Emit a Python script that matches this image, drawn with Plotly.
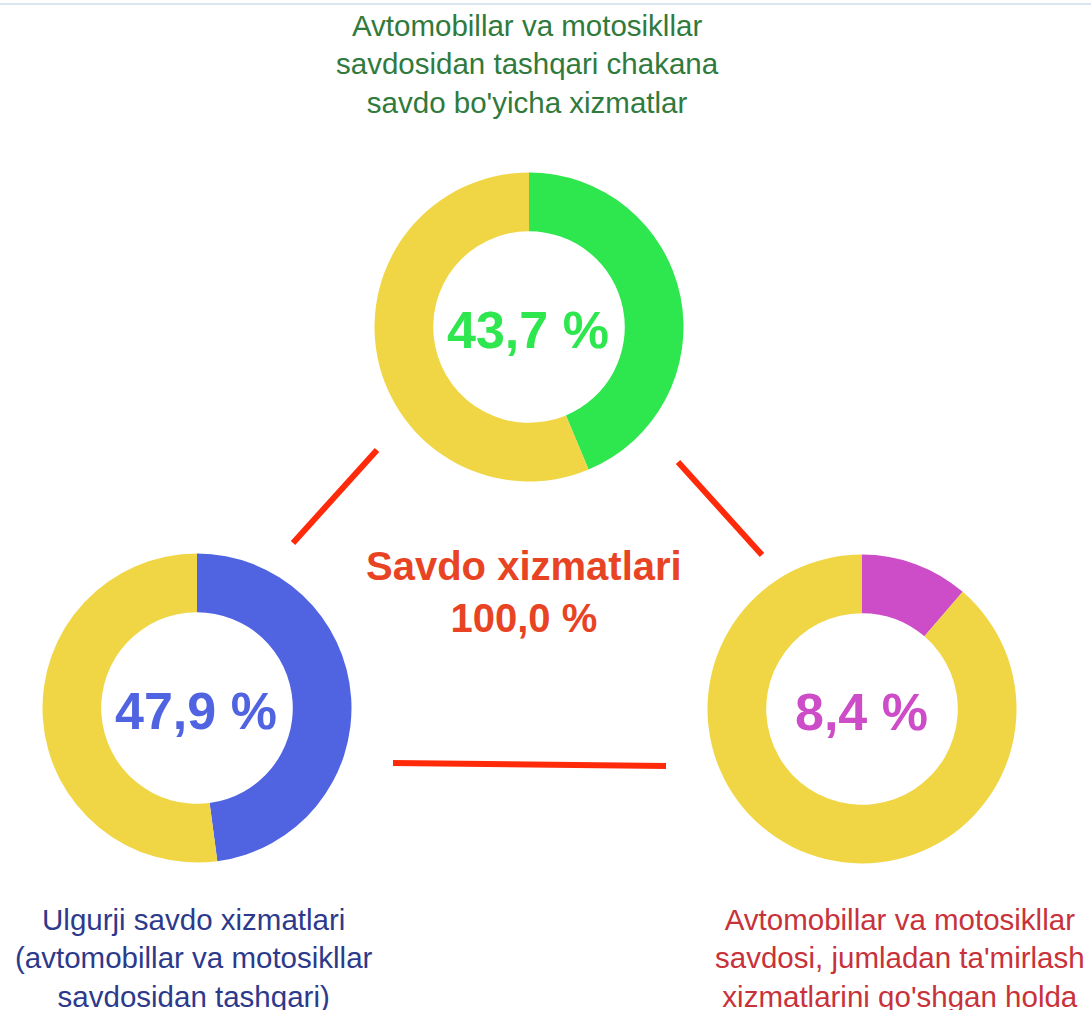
import plotly.graph_objects as go

W, H = 1091, 1010

# ---- data ----
segment_names = ["Ulush", "Qolgan"]
top_share = [43.7, 56.3]
left_share = [47.9, 52.1]
right_share = [11.3, 88.7]          # slice as drawn in the picture
pct_labels = ["43,7 %", "47,9 %", "8,4 %"]
center_title = "Savdo xizmatlari"
center_value = "100,0 %"
top_label = ["Avtomobillar va motosikllar", "savdosidan tashqari chakana", "savdo bo'yicha xizmatlar"]
left_label = ["Ulgurji savdo xizmatlari", "(avtomobillar va motosikllar", "savdosidan tashqari)"]
right_label = ["Avtomobillar va motosikllar", "savdosi, jumladan ta'mirlash", "xizmatlarini qo'shgan holda"]

# ---- layout / style ----
YELLOW = "#F0D644"
R = 154.5
donuts = [
    dict(cx=529, cy=327, vals=top_share, col="#2EE64E", txt=pct_labels[0]),
    dict(cx=197, cy=708, vals=left_share, col="#5064E2", txt=pct_labels[1]),
    dict(cx=862, cy=709, vals=right_share, col="#CD4CC8", txt=pct_labels[2]),
]
connectors = [((377, 450), (293, 543)), ((678, 462), (762, 555)), ((393, 763), (666, 766))]

fig = go.Figure()
for d in donuts:
    fig.add_trace(go.Pie(
        labels=segment_names, values=d["vals"], sort=False, direction="clockwise",
        rotation=0, hole=0.62, textinfo="none", hoverinfo="skip", showlegend=False,
        marker=dict(colors=[d["col"], YELLOW], line=dict(width=0)),
        domain=dict(x=[(d["cx"] - R) / W, (d["cx"] + R) / W],
                    y=[(H - d["cy"] - R) / H, (H - d["cy"] + R) / H]),
    ))

# invisible scatter to establish pixel axes
fig.add_trace(go.Scatter(x=[0, W], y=[0, H], mode="markers", marker=dict(opacity=0),
                         hoverinfo="skip", showlegend=False))

shapes = [dict(type="line", x0=0, x1=W, y0=4, y1=4, xref="x", yref="y",
               line=dict(color="#DCE6F3", width=2))]
for (a, b) in connectors:
    shapes.append(dict(type="line", x0=a[0], y0=a[1], x1=b[0], y1=b[1], xref="x", yref="y",
                       line=dict(color="#FF2A0A", width=6)))

FONT = "Liberation Sans, Arial, sans-serif"
ann = []
for d in donuts:
    ann.append(dict(x=d["cx"] - 1, y=d["cy"] + 3, xref="x", yref="y", text="<b>" + d["txt"] + "</b>",
                    showarrow=False, font=dict(family=FONT, size=52, color=d["col"]),
                    xanchor="center", yanchor="middle"))
ann.append(dict(x=524, y=592, xref="x", yref="y",
                text="<b>" + center_title + "</b><br><b>" + center_value + "</b>",
                showarrow=False, font=dict(family=FONT, size=40, color="#E84424"),
                xanchor="center", yanchor="middle"))
ann.append(dict(x=527, y=64, xref="x", yref="y", text="<br>".join(top_label), showarrow=False,
                font=dict(family=FONT, size=29.5, color="#2F7A3C"), xanchor="center", yanchor="middle"))
ann.append(dict(x=194, y=958, xref="x", yref="y", text="<br>".join(left_label), showarrow=False,
                font=dict(family=FONT, size=29.5, color="#2D3A8C"), xanchor="center", yanchor="middle"))
ann.append(dict(x=900, y=958, xref="x", yref="y", text="<br>".join(right_label), showarrow=False,
                font=dict(family=FONT, size=29.5, color="#C8323A"), xanchor="center", yanchor="middle"))

fig.update_layout(
    width=W, height=H, margin=dict(l=0, r=0, t=0, b=0),
    paper_bgcolor="white", plot_bgcolor="rgba(0,0,0,0)",
    xaxis=dict(range=[0, W], visible=False, fixedrange=True),
    yaxis=dict(range=[H, 0], visible=False, fixedrange=True),
    shapes=shapes, annotations=ann,
)
fig.write_html("out.html", config={"displayModeBar": False},
               post_script="document.body.style.margin='0';document.body.style.overflow='hidden';")
